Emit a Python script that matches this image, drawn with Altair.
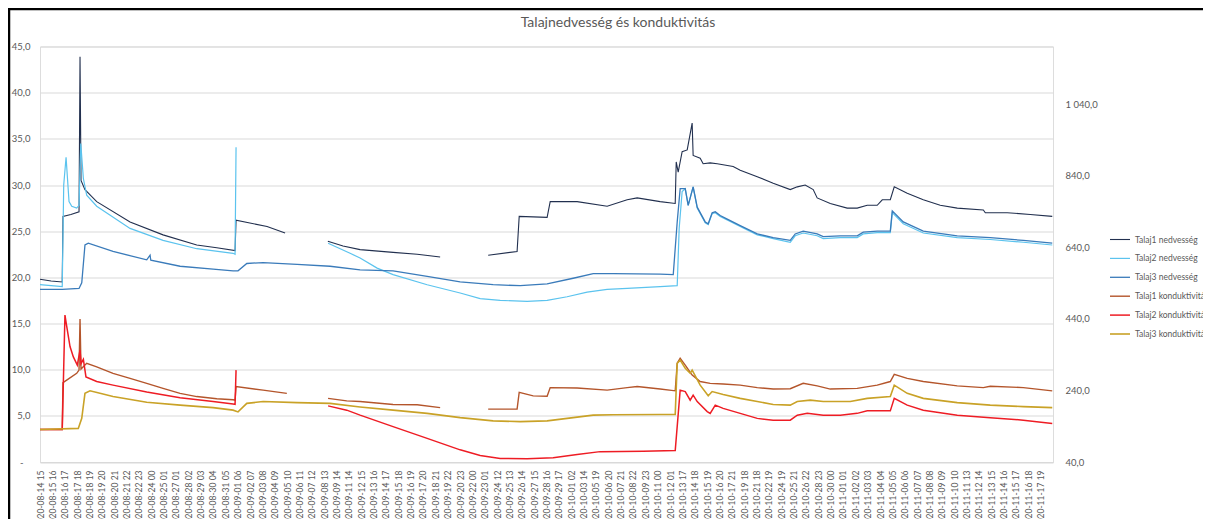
import altair as alt
import pandas as pd

TITLE = "Talajnedvesség és konduktivitás"

x_labels = [
    "2020-08-14 15", "2020-08-15 16", "2020-08-16 17", "2020-08-17 18", "2020-08-18 19",
    "2020-08-19 20", "2020-08-20 21", "2020-08-21 22", "2020-08-22 23", "2020-08-24 00",
    "2020-08-25 01", "2020-08-27 01", "2020-08-28 02", "2020-08-29 03", "2020-08-30 04",
    "2020-08-31 05", "2020-09-01 06", "2020-09-02 07", "2020-09-03 08", "2020-09-04 09",
    "2020-09-05 10", "2020-09-06 11", "2020-09-07 12", "2020-09-08 13", "2020-09-09 14",
    "2020-09-11 14", "2020-09-12 15", "2020-09-13 16", "2020-09-14 17", "2020-09-15 18",
    "2020-09-16 19", "2020-09-17 20", "2020-09-18 21", "2020-09-19 22", "2020-09-20 23",
    "2020-09-22 00", "2020-09-23 01", "2020-09-24 12", "2020-09-25 13", "2020-09-26 14",
    "2020-09-27 15", "2020-09-28 16", "2020-09-29 17", "2020-10-01 02", "2020-10-03 14",
    "2020-10-05 19", "2020-10-06 20", "2020-10-07 21", "2020-10-08 22", "2020-10-09 23",
    "2020-10-11 00", "2020-10-12 01", "2020-10-13 17", "2020-10-14 18", "2020-10-15 19",
    "2020-10-16 20", "2020-10-17 21", "2020-10-19 18", "2020-10-21 18", "2020-10-22 19",
    "2020-10-24 19", "2020-10-25 21", "2020-10-26 22", "2020-10-28 23", "2020-10-30 00",
    "2020-11-01 01", "2020-11-02 02", "2020-11-03 03", "2020-11-04 04", "2020-11-05 05",
    "2020-11-06 06", "2020-11-07 07", "2020-11-08 08", "2020-11-09 09", "2020-11-10 10",
    "2020-11-11 13", "2020-11-12 14", "2020-11-13 15", "2020-11-14 16", "2020-11-15 17",
    "2020-11-16 18", "2020-11-17 19",
]

series_names = [
    "Talaj1 nedvesség", "Talaj2 nedvesség", "Talaj3 nedvesség",
    "Talaj1 konduktivitás", "Talaj2 konduktivitás", "Talaj3 konduktivitás",
]
series_colors = ["#22304F", "#5BC3EE", "#3A7BBA", "#B4552B", "#EE1C24", "#C9A227"]
series_widths = [1.1, 1.6, 1.1, 1.1, 1.2, 1.1]

left_ticks = [0, 5, 10, 15, 20, 25, 30, 35, 40, 45]
right_ticks = [40, 240, 440, 640, 840, 1040]

# (category position, value); None = gap in the data
moist1 = [(0, 19.8), (0.9, 19.6), (1.80, 19.5), (1.86, 26.6), (2.5, 26.8), (3.16, 27.1), (3.24, 43.9),
          (3.32, 30.5), (3.64, 29.5), (4.59, 28.2), (7.29, 26.0), (9.96, 24.6), (12.69, 23.5), (14.31, 23.2),
          (15.79, 22.9), (15.87, 26.2), (18.38, 25.5), (19.84, 24.8), None,
          (23.30, 23.9), (24.53, 23.4), (25.91, 23.0), (28.58, 22.7), (30.53, 22.5), (32.39, 22.2), None,
          (36.28, 22.4), (38.62, 22.8), (38.79, 26.6), (41.05, 26.5), (41.30, 28.2), (43.48, 28.2),
          (45.91, 27.7), (47.53, 28.4), (48.34, 28.6), (50.20, 28.2), (51.42, 28.0), (51.50, 32.5),
          (51.66, 31.4), (51.98, 33.6), (52.39, 33.8), (52.79, 36.7), (52.87, 33.2), (53.44, 32.9),
          (53.68, 32.3), (54.25, 32.4), (54.82, 32.3), (56.11, 32.0), (56.68, 31.6), (58.06, 30.9),
          (59.35, 30.2), (60.73, 29.5), (61.30, 29.8), (61.94, 30.0), (62.59, 29.5), (62.91, 28.6),
          (63.97, 28.0), (65.34, 27.5), (66.15, 27.5), (66.96, 27.8), (67.77, 27.8), (68.18, 28.4),
          (68.83, 28.4), (69.15, 29.8), (70.20, 29.1), (71.50, 28.4), (72.87, 27.8), (74.25, 27.5),
          (76.36, 27.3), (76.52, 27.0), (78.30, 27.0), (80.16, 26.8), (81.94, 26.6)]

moist2 = [(0, 19.2), (0.9, 19.1), (1.80, 19.0), (1.92, 30.0), (2.11, 33.0), (2.35, 28.2), (2.57, 27.7),
          (2.97, 27.5), (3.16, 27.8), (3.30, 34.5), (3.51, 30.7), (3.78, 28.9), (4.59, 27.7), (7.29, 25.3),
          (9.96, 24.0), (12.69, 23.1), (15.63, 22.6), (15.79, 22.5), (15.87, 34.1), None,
          (23.32, 23.7), (25.10, 22.6), (25.91, 22.1), (27.29, 21.0), (28.58, 20.3), (31.34, 19.2),
          (34.01, 18.3), (35.63, 17.7), (37.25, 17.5), (39.43, 17.4), (41.05, 17.5), (42.67, 17.9),
          (44.29, 18.4), (45.91, 18.7), (47.53, 18.8), (50.20, 19.0), (51.58, 19.1), (51.74, 25.3),
          (51.98, 29.3), (52.23, 29.6), (52.47, 27.8), (52.87, 29.8), (53.20, 27.5), (53.85, 25.9),
          (54.09, 25.7), (54.41, 26.9), (54.66, 27.0), (55.06, 26.6), (55.63, 26.2), (56.68, 25.5),
          (58.06, 24.6), (59.35, 24.2), (60.73, 23.8), (61.13, 24.5), (61.78, 24.8), (62.91, 24.5),
          (63.40, 24.2), (64.78, 24.3), (66.15, 24.3), (66.64, 24.7), (67.77, 24.85), (68.83, 24.85),
          (68.99, 27.0), (69.88, 25.8), (71.50, 24.8), (74.25, 24.3), (76.92, 24.1), (79.60, 23.8),
          (81.94, 23.5)]

moist3 = [(0, 18.7), (1.80, 18.7), (3.16, 18.8), (3.38, 19.4), (3.64, 23.5), (3.91, 23.7), (5.91, 22.8),
          (8.64, 21.9), (8.91, 22.4), (8.97, 21.85), (11.34, 21.2), (14.01, 20.9), (15.63, 20.7),
          (16.03, 20.7), (16.74, 21.5), (18.06, 21.6), (20.81, 21.4), (23.48, 21.2), (25.91, 20.8),
          (28.58, 20.7), (31.34, 20.1), (34.01, 19.5), (36.68, 19.2), (38.87, 19.1), (41.05, 19.3),
          (43.16, 19.9), (44.78, 20.4), (46.40, 20.4), (50.20, 20.35), (51.26, 20.3), (51.58, 26.0),
          (51.82, 29.6), (52.23, 29.6), (52.47, 27.8), (52.87, 29.8), (53.20, 27.6), (53.85, 26.0),
          (54.09, 25.8), (54.41, 27.0), (54.66, 27.1), (55.06, 26.7), (55.63, 26.3), (56.68, 25.6),
          (58.06, 24.7), (59.35, 24.3), (60.73, 24.0), (61.13, 24.7), (61.78, 25.0), (62.91, 24.7),
          (63.40, 24.4), (64.78, 24.5), (66.15, 24.5), (66.64, 24.9), (67.77, 25.0), (68.83, 25.0),
          (68.99, 27.2), (69.88, 26.0), (71.50, 25.0), (74.25, 24.5), (76.92, 24.3), (79.60, 24.0),
          (81.94, 23.7)]

cond1 = [(0, 131), (1.80, 131), (1.86, 262), (2.16, 269), (2.97, 288), (3.16, 297), (3.24, 440),
         (3.32, 300), (3.78, 316), (4.59, 306), (5.91, 288), (7.29, 274), (8.64, 260), (9.96, 246),
         (11.34, 232), (12.69, 223), (14.31, 217), (15.63, 214), (15.79, 213), (15.87, 251), (18.06, 241),
         (19.98, 232), None,
         (23.32, 218), (24.83, 211), (25.91, 209), (28.58, 201), (30.53, 200), (32.39, 192), None,
         (36.28, 188), (38.62, 188), (38.79, 235), (39.92, 225), (41.05, 224), (41.30, 248), (43.48, 247),
         (45.91, 241), (47.53, 248), (48.34, 251), (50.20, 244), (51.42, 239), (51.58, 316), (51.82, 330),
         (52.23, 311), (52.79, 283), (53.44, 265), (54.25, 260), (55.30, 258), (56.68, 255), (58.06, 248),
         (59.35, 244), (60.73, 245), (61.78, 260), (62.91, 253), (63.97, 244), (66.15, 246), (67.77, 255),
         (68.83, 265), (69.15, 285), (70.20, 274), (71.50, 265), (74.25, 253), (76.36, 248), (76.92, 252),
         (79.60, 248), (81.94, 239)]

cond2 = [(0, 131), (1.80, 131), (2.02, 451), (2.16, 420), (2.43, 363), (2.70, 334), (3.02, 311),
         (3.24, 353), (3.32, 315), (3.51, 327), (3.72, 278), (4.59, 265), (5.91, 255), (8.64, 236),
         (11.34, 220), (14.01, 209), (15.63, 202), (15.79, 201), (15.87, 297), None,
         (23.32, 197), (24.83, 185), (25.91, 171), (28.58, 139), (31.34, 106), (34.01, 74), (35.63, 58),
         (37.25, 50), (39.43, 49), (41.54, 52), (43.48, 61), (45.34, 69), (48.83, 70), (51.42, 72),
         (51.82, 241), (52.23, 237), (52.63, 213), (52.87, 227), (53.20, 209), (54.01, 181), (54.25, 176),
         (54.66, 199), (55.30, 190), (56.68, 176), (58.06, 162), (59.35, 157), (60.73, 157), (61.30, 171),
         (62.11, 176), (63.40, 171), (64.78, 171), (66.15, 176), (66.96, 183), (68.83, 183), (69.15, 218),
         (70.20, 199), (71.50, 185), (74.25, 171), (76.92, 164), (79.60, 157), (81.94, 148)]

cond3 = [(0, 131), (3.10, 134), (3.38, 162), (3.64, 232), (4.05, 239), (5.91, 223), (8.64, 207),
         (11.34, 199), (14.01, 192), (15.63, 185), (16.03, 180), (16.74, 204), (18.06, 209), (20.81, 206),
         (23.48, 204), (25.91, 194), (28.58, 185), (31.34, 176), (34.01, 164), (36.68, 155), (38.87, 153),
         (41.05, 155), (43.16, 164), (44.78, 171), (46.40, 172), (50.20, 173), (51.42, 173), (51.58, 316),
         (51.82, 325), (52.23, 302), (52.63, 288), (52.79, 297), (53.44, 255), (54.09, 225), (54.41, 237),
         (55.30, 229), (56.68, 218), (58.06, 209), (59.35, 201), (60.73, 199), (61.30, 209), (62.35, 213),
         (63.40, 209), (65.59, 209), (66.96, 218), (68.83, 223), (69.15, 255), (70.20, 232), (71.50, 218),
         (74.25, 206), (76.92, 199), (79.60, 195), (81.94, 192)]


def rows(name, pairs):
    out, seg = [], 0
    for p in pairs:
        if p is None:
            seg += 1
            continue
        out.append({"series": name, "seg": f"{name}-{seg}", "u": p[0], "v": p[1]})
    return out


df_moist = pd.DataFrame(rows(series_names[0], moist1) + rows(series_names[1], moist2)
                        + rows(series_names[2], moist3))
df_cond = pd.DataFrame(rows(series_names[3], cond1) + rows(series_names[4], cond2)
                       + rows(series_names[5], cond3))

FONT = "Lato"
GREY = "#595959"

x_expr = "[" + ",".join("'" + s + "'" for s in x_labels) + "][datum.value]"
x_enc = alt.X("u:Q",
              scale=alt.Scale(domain=[0, 82], nice=False, zero=False),
              axis=alt.Axis(values=list(range(len(x_labels))), labelExpr=x_expr, labelAngle=-90,
                            labelOverlap=False, labelBound=False, labelFlush=False,
                            labelFont=FONT, labelFontSize=8.5, labelColor=GREY, labelPadding=8,
                            ticks=False, domain=True, domainColor="#D9D9D9", grid=False, title=None))

legend = alt.Legend(orient="none", legendX=1069, legendY=182, title=None, symbolType="stroke",
                    symbolSize=400, symbolStrokeWidth=1.5, labelFont=FONT, labelFontSize=8.5,
                    labelColor=GREY, rowPadding=2.9, labelLimit=300, labelOffset=4)
color_enc = alt.Color("series:N", scale=alt.Scale(domain=series_names, range=series_colors),
                      legend=legend)
width_enc = alt.StrokeWidth("series:N", scale=alt.Scale(domain=series_names, range=series_widths),
                            legend=None)

moist = alt.Chart(df_moist).mark_line().encode(
    x=x_enc,
    y=alt.Y("v:Q", scale=alt.Scale(domain=[0, 45], nice=False, zero=False),
            axis=alt.Axis(orient="left", values=left_ticks,
                          labelExpr="datum.value == 0 ? '-' : replace(format(datum.value, '.1f'), '.', ',')",
                          labelPadding={"condition": {"test": "datum.value == 0", "value": 17}, "value": 10},
                          grid=True, gridColor="#D9D9D9", gridWidth=1, domain=False, ticks=False,
                          labelFont=FONT, labelFontSize=9.5, labelColor=GREY, title=None)),
    color=color_enc,
    strokeWidth=width_enc,
    detail="seg:N",
)

cond = alt.Chart(df_cond).mark_line().encode(
    x=x_enc,
    y=alt.Y("v:Q", scale=alt.Scale(domain=[40, 1202], nice=False, zero=False),
            axis=alt.Axis(orient="right", values=right_ticks,
                          labelExpr="replace(replace(format(datum.value, ',.1f'), ',', ' '), '.', ',')",
                          grid=False, domain=False, ticks=False,
                          labelFont=FONT, labelFontSize=9.5, labelColor=GREY, labelPadding=12, title=None)),
    color=color_enc,
    strokeWidth=width_enc,
    detail="seg:N",
)

title_df = pd.DataFrame({"t": [TITLE]})
title_mark = alt.Chart(title_df).mark_text(
    font=FONT, fontSize=14, color=GREY, align="center", baseline="alphabetic"
).encode(text="t:N", x=alt.value(578), y=alt.value(-20))

frame_df = pd.DataFrame({"k": [0]})
frame_top = alt.Chart(frame_df).mark_rule(color="black", strokeWidth=2.5).encode(
    x=alt.value(-32), x2=alt.value(1163), y=alt.value(-37.5), y2=alt.value(-37.5))
frame_left = alt.Chart(frame_df).mark_rule(color="black", strokeWidth=2.5).encode(
    x=alt.value(-31), x2=alt.value(-31), y=alt.value(-38), y2=alt.value(480))

chart = alt.layer(moist, cond, title_mark, frame_top, frame_left).resolve_scale(y="independent").properties(
    width=1013, height=415.5,
    autosize=alt.AutoSizeParams(type="none"),
    padding={"left": 32, "top": 38.5, "right": 150, "bottom": 57},
).configure_view(stroke=None).configure(background="white")

chart.save("out.html", embed_options={"renderer": "svg", "actions": False})
